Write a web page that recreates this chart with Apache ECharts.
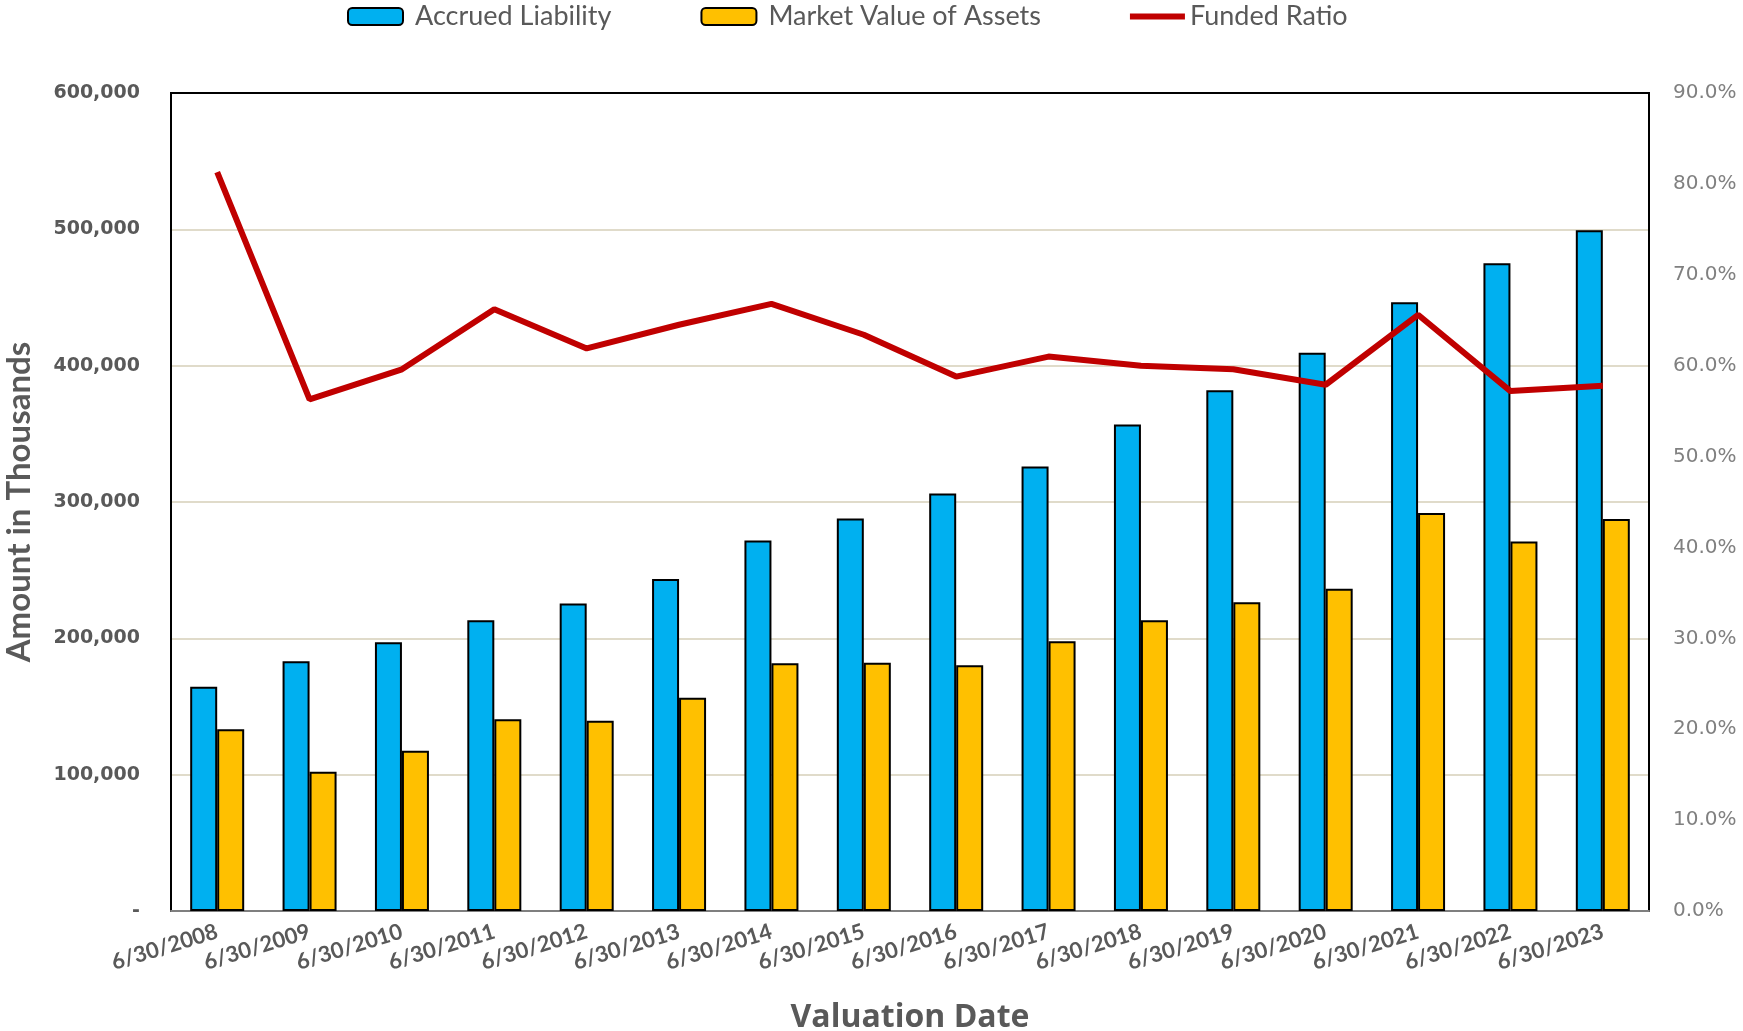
<!DOCTYPE html>
<html>
<head>
<meta charset="utf-8">
<title>Accrued Liability vs Market Value of Assets</title>
<script src="https://cdn.jsdelivr.net/npm/echarts@6/dist/echarts.min.js"></script>
<style>
    html, body { margin: 0; padding: 0; background: #fff; }
    #chart { width: 1743px; height: 1031px; }
</style>
</head>
<body>
<div id="chart"></div>
<script>
// valuation dates
var categories = ['6/30/2008', '6/30/2009', '6/30/2010', '6/30/2011', '6/30/2012', '6/30/2013',
    '6/30/2014', '6/30/2015', '6/30/2016', '6/30/2017', '6/30/2018', '6/30/2019',
    '6/30/2020', '6/30/2021', '6/30/2022', '6/30/2023'];

// amounts in thousands
var accruedLiability = [164500, 183200, 197100, 213200, 225600, 243600, 271800, 287900,
    306200, 326000, 356800, 382000, 409500, 446500, 475100, 499300];
var marketValue = [133300, 102200, 117600, 140700, 139600, 156400, 181700, 182000,
    180200, 197800, 213200, 226400, 236300, 291900, 271100, 287500];

// funded ratio in percent
var fundedRatio = [81.3, 56.3, 59.6, 66.2, 61.9, 64.5, 66.8, 63.4,
    58.8, 61.0, 60.0, 59.6, 57.9, 65.6, 57.2, 57.8];

// axis ranges: min, max, step
var amountAxis = [0, 600000, 100000];
var ratioAxis = [0, 90, 10];

var grey = '#595959';

/**
 * left axis label, zero shown as a dash
 */
function amountLabel(v) {
    if (v === 0) {
        return '-';
    }
    return v.toLocaleString('en-US');
}

var chartOption = {
    animation: false,
    backgroundColor: '#fff',
    legend: {
        left: 347,
        top: 3,
        padding: 0,
        itemWidth: 55,
        itemHeight: 17,
        itemGap: 89,
        textStyle: {
            fontFamily: 'Lato',
            fontSize: 27,
            color: grey,
            padding: [0, 0, 0, 7]
        },
        data: [
            'Accrued Liability',
            'Market Value of Assets',
            {
                name: 'Funded Ratio',
                icon: 'path://M0,0 L56,0 L56,6 L0,6 Z',
                textStyle: { padding: [0, 0, 0, 0] }
            }
        ]
    },
    grid: {
        show: true,
        left: 171,
        top: 93,
        right: 94,
        bottom: 120,
        containLabel: false,
        outerBoundsMode: 'none',
        borderColor: '#000',
        borderWidth: 2
    },
    xAxis: {
        type: 'category',
        data: categories,
        name: 'Valuation Date',
        nameLocation: 'middle',
        nameGap: 91,
        nameTextStyle: {
            fontFamily: 'Open Sans',
            fontWeight: 'bold',
            fontSize: 32,
            color: grey
        },
        axisLine: { lineStyle: { color: '#7f7f7f', width: 2 } },
        axisTick: { length: 6, lineStyle: { color: '#595959', width: 2 } },
        axisLabel: {
            interval: 0,
            rotate: 17,
            margin: 20,
            fontFamily: 'Lato',
            fontWeight: 'bold',
            fontSize: 22,
            color: grey
        }
    },
    yAxis: [
        {
            type: 'value',
            min: amountAxis[0],
            max: amountAxis[1],
            interval: amountAxis[2],
            name: 'Amount in Thousands',
            nameLocation: 'middle',
            nameGap: 135,
            nameTextStyle: {
                fontFamily: 'Lato',
                fontWeight: 'bold',
                fontSize: 33,
                color: grey
            },
            axisLine: { show: true, lineStyle: { color: '#000', width: 2 } },
            axisTick: { show: false },
            axisLabel: {
                margin: 31,
                fontFamily: 'DejaVu Sans',
                fontWeight: 'bold',
                fontSize: 19,
                color: grey,
                formatter: amountLabel
            },
            splitLine: {
                showMinLine: false,
                showMaxLine: false,
                lineStyle: { color: '#d6cfb8', width: 1.5 }
            }
        },
        {
            type: 'value',
            min: ratioAxis[0],
            max: ratioAxis[1],
            interval: ratioAxis[2],
            axisLine: { show: true, lineStyle: { color: '#000', width: 2 } },
            axisTick: { show: false },
            axisLabel: {
                margin: 24,
                fontFamily: 'DejaVu Sans',
                fontSize: 20,
                color: '#808080',
                formatter: function (v) { return v.toFixed(1) + '%'; }
            },
            splitLine: { show: false }
        }
    ],
    series: [
        {
            name: 'Accrued Liability',
            type: 'bar',
            data: accruedLiability,
            barWidth: 27,
            barGap: '0%',
            itemStyle: { color: '#00b0f0', borderColor: '#000', borderWidth: 2 }
        },
        {
            name: 'Market Value of Assets',
            type: 'bar',
            data: marketValue,
            barWidth: 27,
            barGap: '0%',
            itemStyle: { color: '#ffc000', borderColor: '#000', borderWidth: 2 }
        },
        {
            name: 'Funded Ratio',
            type: 'line',
            yAxisIndex: 1,
            data: fundedRatio,
            symbol: 'none',
            z: 5,
            lineStyle: { color: '#c00000', width: 6 },
            itemStyle: { color: '#c00000' }
        }
    ]
};

var myChart = echarts.init(document.getElementById('chart'), null, { renderer: 'canvas' });
myChart.setOption(chartOption);
</script>
</body>
</html>
